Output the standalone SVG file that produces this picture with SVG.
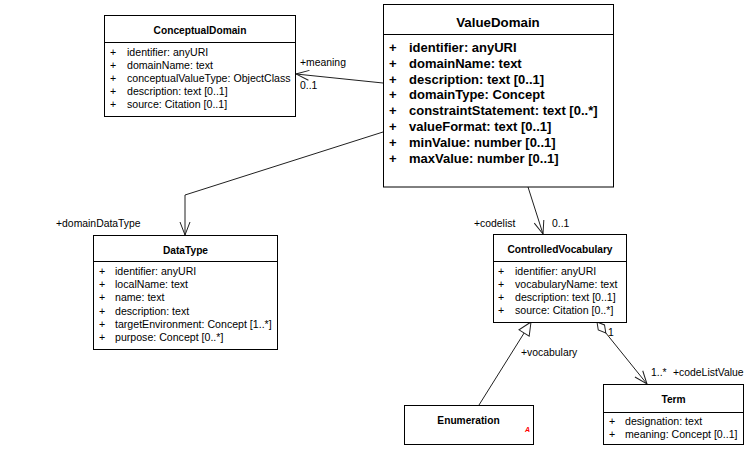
<svg xmlns="http://www.w3.org/2000/svg" width="750" height="450" viewBox="0 0 750 450">
<style>
  .box { fill: #ffffff; stroke: #000000; stroke-width: 1; }
  .div { stroke: #000000; stroke-width: 1; }
  .t { font-family: "Liberation Sans", Arial, sans-serif; font-size: 10.6px; fill: #000000; }
  .tb { font-family: "Liberation Sans", Arial, sans-serif; font-size: 10.2px; font-weight: bold; fill: #000000; text-anchor: middle; }
  .vb { font-family: "Liberation Sans", Arial, sans-serif; font-size: 13px; font-weight: bold; fill: #000000; }
  .vt { font-family: "Liberation Sans", Arial, sans-serif; font-size: 13.3px; font-weight: bold; fill: #000000; text-anchor: middle; }
  .lbl { font-family: "Liberation Sans", Arial, sans-serif; font-size: 10.4px; fill: #000000; }
  .edge { fill: none; stroke: #202020; stroke-width: 1; }
</style>
<defs>
  <marker id="open" viewBox="-14 -7 15 14" refX="0" refY="0" markerWidth="15" markerHeight="14" markerUnits="userSpaceOnUse" orient="auto">
    <path d="M-13,-5 L0,0 L-13,5" fill="none" stroke="#202020" stroke-width="1"/>
  </marker>
  <marker id="tri" viewBox="-15 -8 16 16" refX="0" refY="0" markerWidth="16" markerHeight="16" markerUnits="userSpaceOnUse" orient="auto">
    <path d="M0,0 L-13,-6 L-13,6 Z" fill="#ffffff" stroke="#202020" stroke-width="1"/>
  </marker>
  <marker id="dia" viewBox="-1 -6 17 12" refX="0" refY="0" markerWidth="17" markerHeight="12" markerUnits="userSpaceOnUse" orient="auto">
    <path d="M0,0 L7,-4 L14,0 L7,4 Z" fill="#ffffff" stroke="#202020" stroke-width="1"/>
  </marker>
</defs>

<g id="connectors">
  <g id="e-meaning">
    <path class="edge" d="M383,83 L296,74" marker-end="url(#open)"/>
    <text class="lbl" x="300" y="66">+meaning</text>
    <text class="lbl" x="300" y="89">0..1</text>
  </g>
  <g id="e-datatype">
    <path class="edge" d="M383,132 L185,195 L185,235" marker-end="url(#open)"/>
    <text class="lbl" x="56" y="227">+domainDataType</text>
  </g>
  <g id="e-codelist">
    <path class="edge" d="M528,187 L543,234" marker-end="url(#open)"/>
    <text class="lbl" x="474" y="227">+codelist</text>
    <text class="lbl" x="552" y="227">0..1</text>
  </g>
  <g id="e-vocabulary">
    <path class="edge" d="M479,405 L531,322" marker-end="url(#tri)"/>
    <text class="lbl" x="521" y="356">+vocabulary</text>
  </g>
  <g id="e-term">
    <path class="edge" d="M597,322 L647,384" marker-start="url(#dia)" marker-end="url(#open)"/>
    <text class="lbl" x="608" y="336">1</text>
    <text class="lbl" x="651" y="376">1..*</text>
    <text class="lbl" x="673" y="376">+codeListValue</text>
  </g>
</g>

<g id="ConceptualDomain">
  <rect class="box" x="104.5" y="15.5" width="191" height="101"/>
  <line class="div" x1="104.5" y1="42.5" x2="295.5" y2="42.5"/>
  <text class="tb" x="200" y="34">ConceptualDomain</text>
  <text class="t" x="110" y="56">+</text><text class="t" x="127" y="56">identifier: anyURI</text>
  <text class="t" x="110" y="69">+</text><text class="t" x="127" y="69">domainName: text</text>
  <text class="t" x="110" y="82">+</text><text class="t" x="127" y="82">conceptualValueType: ObjectClass</text>
  <text class="t" x="110" y="95">+</text><text class="t" x="127" y="95">description: text [0..1]</text>
  <text class="t" x="110" y="108">+</text><text class="t" x="127" y="108">source: Citation [0..1]</text>
</g>

<g id="ValueDomain">
  <rect class="box" x="383.5" y="4.5" width="230" height="182.5"/>
  <line class="div" x1="383.5" y1="34.5" x2="613.5" y2="34.5"/>
  <text class="vt" x="498" y="27">ValueDomain</text>
  <text class="vb" x="389" y="52">+</text><text class="vb" x="409" y="52">identifier: anyURI</text>
  <text class="vb" x="389" y="67.8">+</text><text class="vb" x="409" y="67.8">domainName: text</text>
  <text class="vb" x="389" y="83.6">+</text><text class="vb" x="409" y="83.6">description: text [0..1]</text>
  <text class="vb" x="389" y="99.4">+</text><text class="vb" x="409" y="99.4">domainType: Concept</text>
  <text class="vb" x="389" y="115.2">+</text><text class="vb" x="409" y="115.2">constraintStatement: text [0..*]</text>
  <text class="vb" x="389" y="131">+</text><text class="vb" x="409" y="131">valueFormat: text [0..1]</text>
  <text class="vb" x="389" y="146.8">+</text><text class="vb" x="409" y="146.8">minValue: number [0..1]</text>
  <text class="vb" x="389" y="162.6">+</text><text class="vb" x="409" y="162.6">maxValue: number [0..1]</text>
</g>

<g id="DataType">
  <rect class="box" x="93.5" y="235.5" width="184" height="114"/>
  <line class="div" x1="93.5" y1="261.5" x2="277.5" y2="261.5"/>
  <text class="tb" x="185.5" y="254">DataType</text>
  <text class="t" x="99" y="275">+</text><text class="t" x="115" y="275">identifier: anyURI</text>
  <text class="t" x="99" y="288.2">+</text><text class="t" x="115" y="288.2">localName: text</text>
  <text class="t" x="99" y="301.4">+</text><text class="t" x="115" y="301.4">name: text</text>
  <text class="t" x="99" y="314.6">+</text><text class="t" x="115" y="314.6">description: text</text>
  <text class="t" x="99" y="327.8">+</text><text class="t" x="115" y="327.8">targetEnvironment: Concept [1..*]</text>
  <text class="t" x="99" y="341">+</text><text class="t" x="115" y="341">purpose: Concept [0..*]</text>
</g>

<g id="ControlledVocabulary">
  <rect class="box" x="493.5" y="234.5" width="133" height="88"/>
  <line class="div" x1="493.5" y1="261.5" x2="626.5" y2="261.5"/>
  <text class="tb" x="560" y="253">ControlledVocabulary</text>
  <text class="t" x="498" y="274.5">+</text><text class="t" x="515" y="274.5">identifier: anyURI</text>
  <text class="t" x="498" y="287.5">+</text><text class="t" x="515" y="287.5">vocabularyName: text</text>
  <text class="t" x="498" y="300.5">+</text><text class="t" x="515" y="300.5">description: text [0..1]</text>
  <text class="t" x="498" y="313.5">+</text><text class="t" x="515" y="313.5">source: Citation [0..*]</text>
</g>

<g id="Enumeration">
  <rect class="box" x="404.5" y="405.5" width="129" height="39"/>
  <text class="tb" x="468.5" y="424">Enumeration</text>
  <text x="525" y="432" style="font-family: 'Liberation Sans', Arial, sans-serif; font-size: 7px; font-style: italic; font-weight: bold; fill: #ff0000;">A</text>
</g>

<g id="Term">
  <rect class="box" x="603.5" y="384.5" width="140" height="60"/>
  <line class="div" x1="603.5" y1="412.5" x2="743.5" y2="412.5"/>
  <text class="tb" x="673.5" y="403">Term</text>
  <text class="t" x="609" y="425">+</text><text class="t" x="625" y="425">designation: text</text>
  <text class="t" x="609" y="437.5">+</text><text class="t" x="625" y="437.5">meaning: Concept [0..1]</text>
</g>
</svg>
